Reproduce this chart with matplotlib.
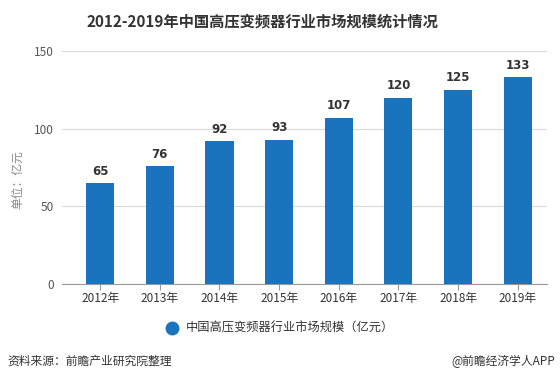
import matplotlib
matplotlib.use("Agg")
import matplotlib.pyplot as plt

plt.rcParams['font.family'] = ['Noto Sans CJK SC', 'DejaVu Sans']

years = ["2012年", "2013年", "2014年", "2015年", "2016年", "2017年", "2018年", "2019年"]
values = [65, 76, 92, 93, 107, 120, 125, 133]
yticks = [0, 50, 100, 150]
title = "2012-2019年中国高压变频器行业市场规模统计情况"
series_name = "中国高压变频器行业市场规模（亿元）"
ylabel = "单位：亿元"
source = "资料来源：前瞻产业研究院整理"
credit = "@前瞻经济学人APP"

bar_color = "#1a74bd"

fig = plt.figure(figsize=(5.6, 3.85), dpi=100)
ax = fig.add_axes([62/560, 1-284/385, (547-62)/560, (284-51)/385])

x = list(range(len(years)))
ax.bar(x, values, width=0.47, color=bar_color, zorder=3)
for xi, v in zip(x, values):
    ax.text(xi, v + 3.5, str(v), ha='center', va='bottom', fontsize=8.5,
            fontweight='bold', color='#333333', family='DejaVu Sans')

ax.set_ylim(0, 150)
ax.set_xlim(-0.64, 7.49)
ax.set_yticks(yticks)
ax.set_yticklabels([str(t) for t in yticks], color='#555555', fontsize=8.5)
ax.set_xticks(x)
ax.set_xticklabels(years, color='#333333', fontsize=8.5)
ax.yaxis.grid(True, color='#d9d9d9', linewidth=0.8, zorder=0)
for s in ['top', 'right', 'left']:
    ax.spines[s].set_visible(False)
ax.spines['bottom'].set_color('#999999')
ax.tick_params(axis='y', length=0, pad=6)
ax.tick_params(axis='x', length=4, color='#999999', pad=2)

fig.text(18/560, 1-180/385, ylabel, rotation=90, ha='center', va='center',
         fontsize=8.5, color='#888888')

fig.text(262/560, 1-22/385, title, ha='center', va='center', fontsize=11,
         fontweight='bold', color='#333333')

# legend
fig.lines.append(plt.Line2D([172/560], [1-328/385], marker='o', markersize=9,
                            color=bar_color, transform=fig.transFigure))
fig.text(186/560, 1-328/385, series_name, ha='left', va='center',
         fontsize=8.8, color='#333333')

fig.text(7/560, 1-361/385, source, ha='left', va='center', fontsize=8.5, color='#333333')
fig.text(555/560, 1-361/385, credit, ha='right', va='center', fontsize=8.5, color='#333333')

fig.savefig("out.png", dpi=100, facecolor='white')
